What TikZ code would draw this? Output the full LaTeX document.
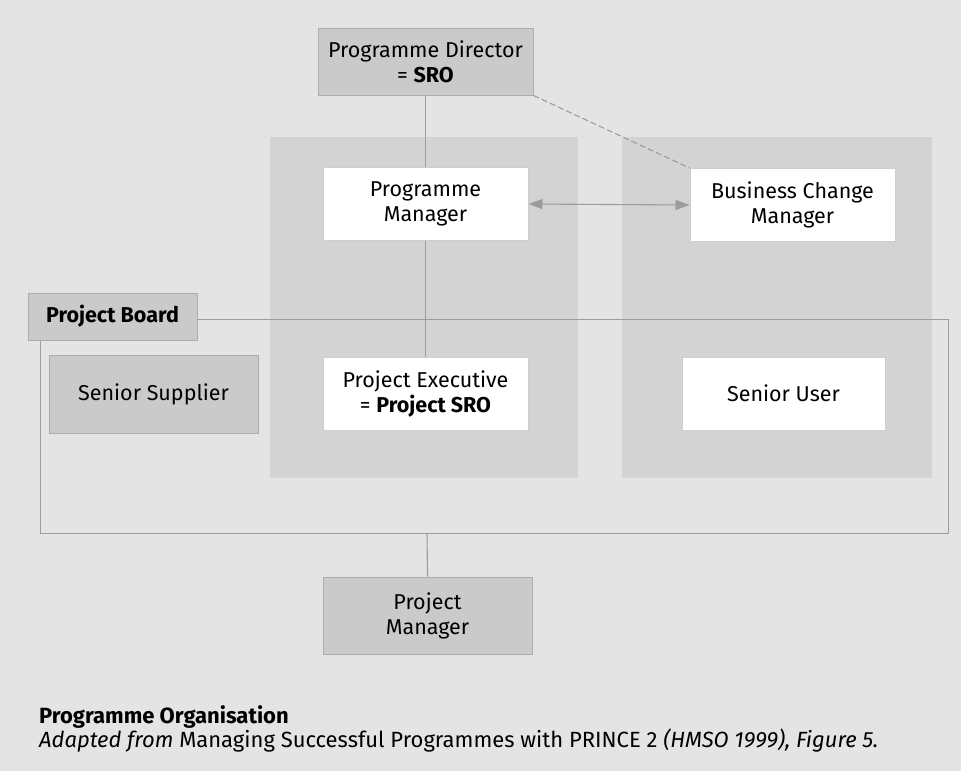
\documentclass[tikz,border=0pt]{standalone}
\usepackage{fontspec}
\setmainfont{Fira Sans}
\usetikzlibrary{arrows.meta}
\definecolor{bgc}{HTML}{E4E4E4}
\definecolor{panelc}{HTML}{D3D3D3}
\definecolor{boxc}{HTML}{CACACA}
\definecolor{boxline}{HTML}{ADADAD}
\definecolor{linec}{HTML}{9C9C9C}
\tikzset{
  graybox/.style={draw=boxline, line width=1pt, fill=boxc, inner sep=0pt, align=center, font=\fontsize{21.5}{25}\selectfont},
  whitebox/.style={draw=boxline!60, line width=1pt, fill=white, inner sep=0pt, align=center, font=\fontsize{21.5}{25}\selectfont},
  conn/.style={draw=linec, line width=1.1pt},
}
\begin{document}
\begin{tikzpicture}[x=1pt,y=-1pt]
\fill[bgc] (0,0) rectangle (961,771);
\useasboundingbox (0,0) rectangle (961,771);
% panels
\fill[panelc] (270,137) rectangle (578,478);
\fill[panelc] (622,137) rectangle (932,478);
% board outline
\draw[conn, line width=1pt] (40,319) rectangle (948,533);
\coordinate (boardbottom) at (427,533);
% nodes
\node[graybox, minimum width=215pt, minimum height=67pt] (pd) at (425.5,61.5) {Programme Director\\= \textbf{SRO}};
\node[whitebox, minimum width=205pt, minimum height=73pt] (pgm) at (425.5,204) {Programme\\Manager};
\node[whitebox, minimum width=205pt, minimum height=73pt] (bcm) at (792.5,205) {Business Change\\Manager};
\node[graybox, minimum width=169pt, minimum height=47pt, font=\fontsize{21.5}{25}\selectfont\bfseries] (pb) at (112.5,316.5) {Project Board};
\node[graybox, minimum width=209pt, minimum height=78pt] (ss) at (153.5,394) {Senior Supplier};
\node[whitebox, minimum width=205pt, minimum height=73pt] (pe) at (425.5,393.5) {Project Executive\\= \textbf{Project SRO}};
\node[whitebox, minimum width=203pt, minimum height=73pt] (su) at (783.5,393.5) {Senior User};
\node[graybox, minimum width=209pt, minimum height=77pt] (pm) at (427.5,615.5) {Project\\Manager};
% connectors
\draw[conn] (pd.south) -- (pgm.north);
\draw[conn] (pgm.south) -- (pe.north);
\draw[conn] (boardbottom) -- (pm.north);
\draw[conn, {Triangle[length=14pt,width=10pt]}-{Triangle[length=14pt,width=10pt]}, fill=linec] (pgm.east) -- (bcm.west);
\draw[conn, dashed, dash pattern=on 6pt off 3pt] (pd.south east) -- (bcm.north west);
% caption
\node[anchor=base west, inner sep=0pt, font=\fontsize{22}{26}\selectfont\bfseries] (cap1) at (39,723) {Programme Organisation};
\node[anchor=base west, inner sep=0pt, font=\fontsize{22}{26}\selectfont] (cap2) at (39,747) {\textit{Adapted from} Managing Successful Programmes with PRINCE 2 \textit{(HMSO 1999), Figure 5.}};
\end{tikzpicture}
\end{document}
